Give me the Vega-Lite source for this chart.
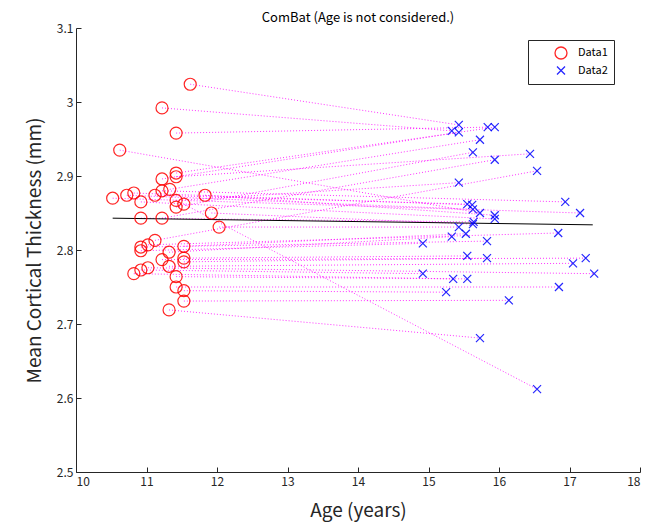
{
  "$schema": "https://vega.github.io/schema/vega-lite/v6.json",
  "width": 564,
  "height": 444,
  "autosize": "none",
  "padding": {"left": 76, "top": 28, "right": 16, "bottom": 51},
  "background": "white",
  "title": {"text": "ComBat (Age is not considered.)", "fontSize": 13, "fontWeight": "normal", "font": "Noto Sans CJK JP", "color": "#000000", "offset": 4, "frame": "group", "dy": 7},
  "config": {
    "view": {"stroke": null},
    "axis": {"font": "Noto Sans CJK JP", "labelFont": "Noto Sans CJK JP", "titleFont": "Noto Sans CJK JP", "labelFontSize": 12, "labelColor": "#262626", "domainColor": "#262626", "tickColor": "#262626", "grid": false, "titleFontWeight": "normal", "titleFontSize": 19, "titleColor": "#262626"}
  },
  "datasets": {
    "pairs": [
      {"a1": 11.62, "t1": 3.024, "a2": 15.43, "t2": 2.969},
      {"a1": 11.22, "t1": 2.992, "a2": 15.33, "t2": 2.961},
      {"a1": 11.42, "t1": 2.958, "a2": 15.84, "t2": 2.966},
      {"a1": 10.62, "t1": 2.935, "a2": 15.73, "t2": 2.850},
      {"a1": 11.42, "t1": 2.904, "a2": 15.94, "t2": 2.966},
      {"a1": 11.42, "t1": 2.899, "a2": 16.44, "t2": 2.930},
      {"a1": 11.22, "t1": 2.896, "a2": 15.43, "t2": 2.959},
      {"a1": 11.33, "t1": 2.882, "a2": 15.73, "t2": 2.949},
      {"a1": 11.22, "t1": 2.880, "a2": 16.94, "t2": 2.865},
      {"a1": 11.12, "t1": 2.874, "a2": 15.55, "t2": 2.862},
      {"a1": 10.82, "t1": 2.877, "a2": 15.62, "t2": 2.861},
      {"a1": 10.72, "t1": 2.874, "a2": 15.63, "t2": 2.855},
      {"a1": 10.52, "t1": 2.870, "a2": 17.15, "t2": 2.850},
      {"a1": 11.83, "t1": 2.874, "a2": 15.94, "t2": 2.847},
      {"a1": 10.92, "t1": 2.865, "a2": 15.94, "t2": 2.842},
      {"a1": 11.42, "t1": 2.858, "a2": 15.63, "t2": 2.932},
      {"a1": 11.42, "t1": 2.867, "a2": 15.43, "t2": 2.891},
      {"a1": 11.53, "t1": 2.862, "a2": 16.54, "t2": 2.612},
      {"a1": 11.92, "t1": 2.850, "a2": 15.63, "t2": 2.835},
      {"a1": 10.92, "t1": 2.843, "a2": 15.64, "t2": 2.838},
      {"a1": 11.22, "t1": 2.843, "a2": 15.94, "t2": 2.922},
      {"a1": 12.03, "t1": 2.831, "a2": 15.43, "t2": 2.831},
      {"a1": 11.12, "t1": 2.813, "a2": 16.54, "t2": 2.907},
      {"a1": 11.02, "t1": 2.807, "a2": 16.84, "t2": 2.823},
      {"a1": 11.53, "t1": 2.805, "a2": 15.53, "t2": 2.822},
      {"a1": 10.92, "t1": 2.804, "a2": 15.83, "t2": 2.812},
      {"a1": 10.92, "t1": 2.799, "a2": 14.92, "t2": 2.809},
      {"a1": 11.32, "t1": 2.797, "a2": 15.33, "t2": 2.818},
      {"a1": 11.53, "t1": 2.789, "a2": 15.55, "t2": 2.792},
      {"a1": 11.22, "t1": 2.787, "a2": 17.23, "t2": 2.789},
      {"a1": 11.53, "t1": 2.784, "a2": 15.83, "t2": 2.789},
      {"a1": 11.32, "t1": 2.778, "a2": 17.05, "t2": 2.782},
      {"a1": 11.02, "t1": 2.776, "a2": 17.35, "t2": 2.768},
      {"a1": 10.92, "t1": 2.773, "a2": 14.92, "t2": 2.768},
      {"a1": 10.82, "t1": 2.768, "a2": 15.35, "t2": 2.761},
      {"a1": 11.42, "t1": 2.764, "a2": 15.55, "t2": 2.761},
      {"a1": 11.42, "t1": 2.750, "a2": 16.85, "t2": 2.750},
      {"a1": 11.53, "t1": 2.745, "a2": 15.25, "t2": 2.743},
      {"a1": 11.53, "t1": 2.731, "a2": 16.14, "t2": 2.732},
      {"a1": 11.32, "t1": 2.719, "a2": 15.73, "t2": 2.681}
    ],
    "points": [
      {"series": "Data1", "age": 11.62, "thick": 3.024},
      {"series": "Data1", "age": 11.22, "thick": 2.992},
      {"series": "Data1", "age": 11.42, "thick": 2.958},
      {"series": "Data1", "age": 10.62, "thick": 2.935},
      {"series": "Data1", "age": 11.42, "thick": 2.904},
      {"series": "Data1", "age": 11.42, "thick": 2.899},
      {"series": "Data1", "age": 11.22, "thick": 2.896},
      {"series": "Data1", "age": 11.33, "thick": 2.882},
      {"series": "Data1", "age": 11.22, "thick": 2.880},
      {"series": "Data1", "age": 11.12, "thick": 2.874},
      {"series": "Data1", "age": 10.82, "thick": 2.877},
      {"series": "Data1", "age": 10.72, "thick": 2.874},
      {"series": "Data1", "age": 10.52, "thick": 2.870},
      {"series": "Data1", "age": 11.83, "thick": 2.874},
      {"series": "Data1", "age": 10.92, "thick": 2.865},
      {"series": "Data1", "age": 11.42, "thick": 2.858},
      {"series": "Data1", "age": 11.42, "thick": 2.867},
      {"series": "Data1", "age": 11.53, "thick": 2.862},
      {"series": "Data1", "age": 11.92, "thick": 2.850},
      {"series": "Data1", "age": 10.92, "thick": 2.843},
      {"series": "Data1", "age": 11.22, "thick": 2.843},
      {"series": "Data1", "age": 12.03, "thick": 2.831},
      {"series": "Data1", "age": 11.12, "thick": 2.813},
      {"series": "Data1", "age": 11.02, "thick": 2.807},
      {"series": "Data1", "age": 11.53, "thick": 2.805},
      {"series": "Data1", "age": 10.92, "thick": 2.804},
      {"series": "Data1", "age": 10.92, "thick": 2.799},
      {"series": "Data1", "age": 11.32, "thick": 2.797},
      {"series": "Data1", "age": 11.53, "thick": 2.789},
      {"series": "Data1", "age": 11.22, "thick": 2.787},
      {"series": "Data1", "age": 11.53, "thick": 2.784},
      {"series": "Data1", "age": 11.32, "thick": 2.778},
      {"series": "Data1", "age": 11.02, "thick": 2.776},
      {"series": "Data1", "age": 10.92, "thick": 2.773},
      {"series": "Data1", "age": 10.82, "thick": 2.768},
      {"series": "Data1", "age": 11.42, "thick": 2.764},
      {"series": "Data1", "age": 11.42, "thick": 2.750},
      {"series": "Data1", "age": 11.53, "thick": 2.745},
      {"series": "Data1", "age": 11.53, "thick": 2.731},
      {"series": "Data1", "age": 11.32, "thick": 2.719},
      {"series": "Data2", "age": 15.43, "thick": 2.969},
      {"series": "Data2", "age": 15.33, "thick": 2.961},
      {"series": "Data2", "age": 15.84, "thick": 2.966},
      {"series": "Data2", "age": 15.73, "thick": 2.850},
      {"series": "Data2", "age": 15.94, "thick": 2.966},
      {"series": "Data2", "age": 16.44, "thick": 2.930},
      {"series": "Data2", "age": 15.43, "thick": 2.959},
      {"series": "Data2", "age": 15.73, "thick": 2.949},
      {"series": "Data2", "age": 16.94, "thick": 2.865},
      {"series": "Data2", "age": 15.55, "thick": 2.862},
      {"series": "Data2", "age": 15.62, "thick": 2.861},
      {"series": "Data2", "age": 15.63, "thick": 2.855},
      {"series": "Data2", "age": 17.15, "thick": 2.850},
      {"series": "Data2", "age": 15.94, "thick": 2.847},
      {"series": "Data2", "age": 15.94, "thick": 2.842},
      {"series": "Data2", "age": 15.63, "thick": 2.932},
      {"series": "Data2", "age": 15.43, "thick": 2.891},
      {"series": "Data2", "age": 16.54, "thick": 2.612},
      {"series": "Data2", "age": 15.63, "thick": 2.835},
      {"series": "Data2", "age": 15.64, "thick": 2.838},
      {"series": "Data2", "age": 15.94, "thick": 2.922},
      {"series": "Data2", "age": 15.43, "thick": 2.831},
      {"series": "Data2", "age": 16.54, "thick": 2.907},
      {"series": "Data2", "age": 16.84, "thick": 2.823},
      {"series": "Data2", "age": 15.53, "thick": 2.822},
      {"series": "Data2", "age": 15.83, "thick": 2.812},
      {"series": "Data2", "age": 14.92, "thick": 2.809},
      {"series": "Data2", "age": 15.33, "thick": 2.818},
      {"series": "Data2", "age": 15.55, "thick": 2.792},
      {"series": "Data2", "age": 17.23, "thick": 2.789},
      {"series": "Data2", "age": 15.83, "thick": 2.789},
      {"series": "Data2", "age": 17.05, "thick": 2.782},
      {"series": "Data2", "age": 17.35, "thick": 2.768},
      {"series": "Data2", "age": 14.92, "thick": 2.768},
      {"series": "Data2", "age": 15.35, "thick": 2.761},
      {"series": "Data2", "age": 15.55, "thick": 2.761},
      {"series": "Data2", "age": 16.85, "thick": 2.750},
      {"series": "Data2", "age": 15.25, "thick": 2.743},
      {"series": "Data2", "age": 16.14, "thick": 2.732},
      {"series": "Data2", "age": 15.73, "thick": 2.681}
    ],
    "fit": [
      {"a1": 10.52, "t1": 2.843, "a2": 17.33, "t2": 2.834}
    ]
  },
  "layer": [
    {
      "data": {"name": "pairs"},
      "mark": {"type": "rule", "color": "#ff00ff", "strokeDash": [1, 2], "strokeWidth": 1, "opacity": 0.8},
      "encoding": {
        "x": {"field": "a1", "type": "quantitative", "scale": {"domain": [10, 18], "nice": false}, "axis": {"title": "Age (years)", "values": [10, 11, 12, 13, 14, 15, 16, 17, 18], "format": "d", "tickSize": -5, "labelPadding": 9, "titlePadding": 14, "domainWidth": 1}},
        "y": {"field": "t1", "type": "quantitative", "scale": {"domain": [2.5, 3.1], "nice": false, "zero": false}, "axis": {"title": "Mean Cortical Thickness (mm)", "values": [2.5, 2.6, 2.7, 2.8, 2.9, 3.0, 3.1], "format": ".1~f", "tickSize": -5, "labelPadding": 8, "titlePadding": 12}},
        "x2": {"field": "a2"},
        "y2": {"field": "t2"}
      }
    },
    {
      "data": {"name": "fit"},
      "mark": {"type": "rule", "color": "#000000", "strokeWidth": 1},
      "encoding": {
        "x": {"field": "a1", "type": "quantitative"},
        "y": {"field": "t1", "type": "quantitative"},
        "x2": {"field": "a2"},
        "y2": {"field": "t2"}
      }
    },
    {
      "data": {"name": "points"},
      "mark": {"type": "point", "filled": false, "strokeWidth": 1.2, "opacity": 0.85},
      "encoding": {
        "x": {"field": "age", "type": "quantitative"},
        "y": {"field": "thick", "type": "quantitative"},
        "color": {"field": "series", "type": "nominal", "scale": {"domain": ["Data1", "Data2"], "range": ["#ff0000", "#0000ff"]}, "legend": {"title": null, "orient": "none", "legendX": 452, "legendY": 12, "strokeColor": "#262626", "fillColor": "white", "padding": 6, "labelFont": "Noto Sans CJK JP", "labelFontSize": 11, "labelColor": "#000000", "symbolStrokeWidth": 1.3, "symbolOffset": 20, "labelOffset": 10, "rowPadding": 1}},
        "shape": {"field": "series", "type": "nominal", "scale": {"domain": ["Data1", "Data2"], "range": ["circle", "M-1,-1L1,1M-1,1L1,-1"]}, "legend": {"title": null}},
        "size": {"field": "series", "type": "nominal", "scale": {"domain": ["Data1", "Data2"], "range": [144, 64]}, "legend": {"title": null}}
      }
    }
  ]
}
